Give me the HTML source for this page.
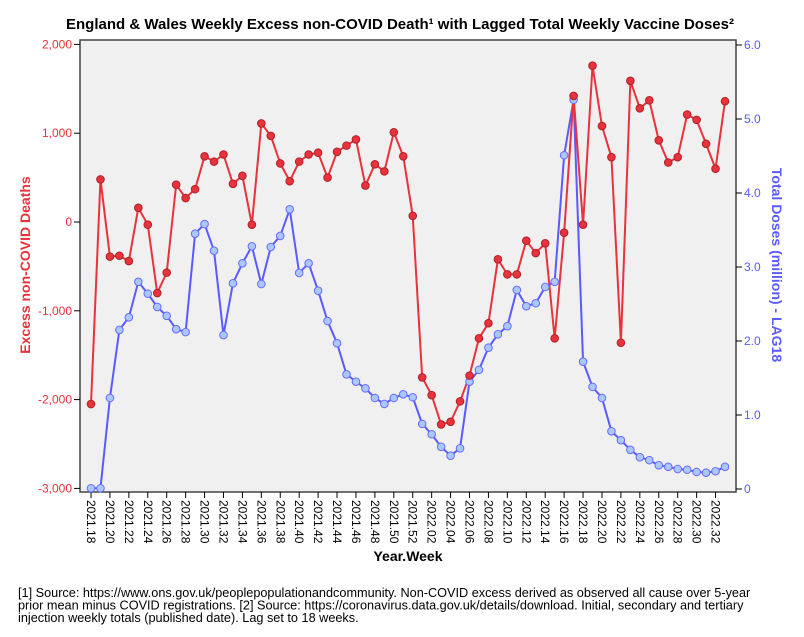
<!DOCTYPE html>
<html><head><meta charset="utf-8"><style>
body{margin:0;background:#fff;font-family:"Liberation Sans",sans-serif}
svg{display:block}
</style></head><body>
<svg id="chart" width="804" height="637" viewBox="0 0 804 637" xmlns="http://www.w3.org/2000/svg" font-family="Liberation Sans, sans-serif">
<text x="400" y="29" text-anchor="middle" font-size="15" font-weight="bold" fill="#000">England &amp; Wales Weekly Excess non-COVID Death¹ with Lagged Total Weekly Vaccine Doses²</text>
<rect x="80" y="40" width="656" height="452" fill="#f0f0f0" stroke="#444" stroke-width="1.5"/>
<g id="axes"></g>
<g id="series"></g>
<text transform="translate(30,265) rotate(-90)" text-anchor="middle" font-size="14" font-weight="bold" fill="#e8323c">Excess non-COVID Deaths</text>
<text transform="translate(772,265) rotate(90)" text-anchor="middle" font-size="14" font-weight="bold" fill="#5a5aff">Total Doses (million) - LAG18</text>
<text x="408" y="561" text-anchor="middle" font-size="14" font-weight="bold" fill="#000">Year.Week</text>
<text font-size="12.7" fill="#000"><tspan x="18" y="597">[1] Source: https://www.ons.gov.uk/peoplepopulationandcommunity. Non-COVID excess derived as observed all cause over 5-year</tspan><tspan x="18" y="609.5">prior mean minus COVID registrations. [2] Source: https://coronavirus.data.gov.uk/details/download. Initial, secondary and tertiary</tspan><tspan x="18" y="622">injection weekly totals (published date). Lag set to 18 weeks.</tspan></text>
</svg>
<script>
const weeks = [];
for (let w = 18; w <= 52; w++) weeks.push('2021.' + String(w).padStart(2,'0'));
for (let w = 1; w <= 33; w++) weeks.push('2022.' + String(w).padStart(2,'0'));
const excessDeaths = [-2050,480,-390,-380,-440,160,-30,-800,-570,420,270,370,740,680,760,430,520,-30,1110,970,660,460,680,760,780,500,790,860,930,410,650,570,1010,740,70,-1750,-1950,-2280,-2250,-2020,-1730,-1310,-1140,-420,-590,-590,-210,-350,-240,-1310,-120,1420,-30,1760,1080,730,-1360,1590,1280,1370,920,670,730,1210,1150,880,600,1360];
const dosesMillions = [0.01,0.01,1.23,2.15,2.32,2.80,2.64,2.46,2.34,2.16,2.12,3.45,3.58,3.22,2.08,2.78,3.05,3.28,2.77,3.27,3.42,3.78,2.92,3.05,2.68,2.27,1.97,1.55,1.45,1.36,1.23,1.15,1.23,1.28,1.24,0.88,0.74,0.57,0.45,0.55,1.45,1.61,1.91,2.09,2.20,2.69,2.47,2.51,2.73,2.80,4.51,5.26,1.72,1.38,1.23,0.78,0.66,0.53,0.43,0.39,0.32,0.30,0.27,0.26,0.23,0.22,0.24,0.30];
const leftTicks = [2000,1000,0,-1000,-2000,-3000];
const leftTickLabels = ['2,000','1,000','0','-1,000','-2,000','-3,000'];
const rightTicks = [6,5,4,3,2,1,0];
const rightTickLabels = ['6.0','5.0','4.0','3.0','2.0','1.0','0'];

const NS='http://www.w3.org/2000/svg';
const xPos = i => 91 + i*(634/(weeks.length-1));
const yLeft = v => 222 - v*0.0888;
const yRight = v => 489 - v*74;
function mk(tag, attrs, parent){const e=document.createElementNS(NS,tag);for(const k in attrs)e.setAttribute(k,attrs[k]);parent.appendChild(e);return e;}
const axes=document.getElementById('axes'), series=document.getElementById('series');
leftTicks.forEach((v,i)=>{
  const t=mk('line',{x1:74,x2:80,y1:yLeft(v),y2:yLeft(v),stroke:'#000'},axes);
  
  
  const l=mk('text',{x:72,y:yLeft(v)+4,'text-anchor':'end','font-size':12,fill:'#e8323c'},axes);
  l.textContent=leftTickLabels[i];
  
  
});
rightTicks.forEach((v,i)=>{
  const t=mk('line',{x1:736,x2:742,y1:yRight(v),y2:yRight(v),stroke:'#000'},axes);
  
  
  const l=mk('text',{x:744,y:yRight(v)+4,'font-size':12,fill:'#5a5aff'},axes);
  l.textContent=rightTickLabels[i];
  
  
});
weeks.forEach((w,i)=>{
  if(i%2) return;
  const x=xPos(i);
  const t=mk('line',{x1:x,x2:x,y1:492,y2:498,stroke:'#000'},axes);
  
  
  const l=mk('text',{transform:`translate(${x-4},500) rotate(90)`,'font-size':12,fill:'#000'},axes);
  l.textContent=w;
  
  
});
const bp=dosesMillions.map((v,i)=>xPos(i)+','+yRight(v)).join(' ');
const bl=mk('polyline',{points:bp,fill:'none',stroke:'#5a5aff','stroke-width':2},series);


const rp=excessDeaths.map((v,i)=>xPos(i)+','+yLeft(v)).join(' ');
const rl=mk('polyline',{points:rp,fill:'none',stroke:'#e8323c','stroke-width':2},series);


dosesMillions.forEach((v,i)=>{
  const c=mk('circle',{cx:xPos(i),cy:yRight(v),r:3.8,fill:'#a8c8ff',stroke:'#6a6aff','stroke-width':1},series);
  
  
});
excessDeaths.forEach((v,i)=>{
  const c=mk('circle',{cx:xPos(i),cy:yLeft(v),r:3.8,fill:'#e8323c',stroke:'#b02028','stroke-width':1},series);
  
  
});
</script>
</body></html>
